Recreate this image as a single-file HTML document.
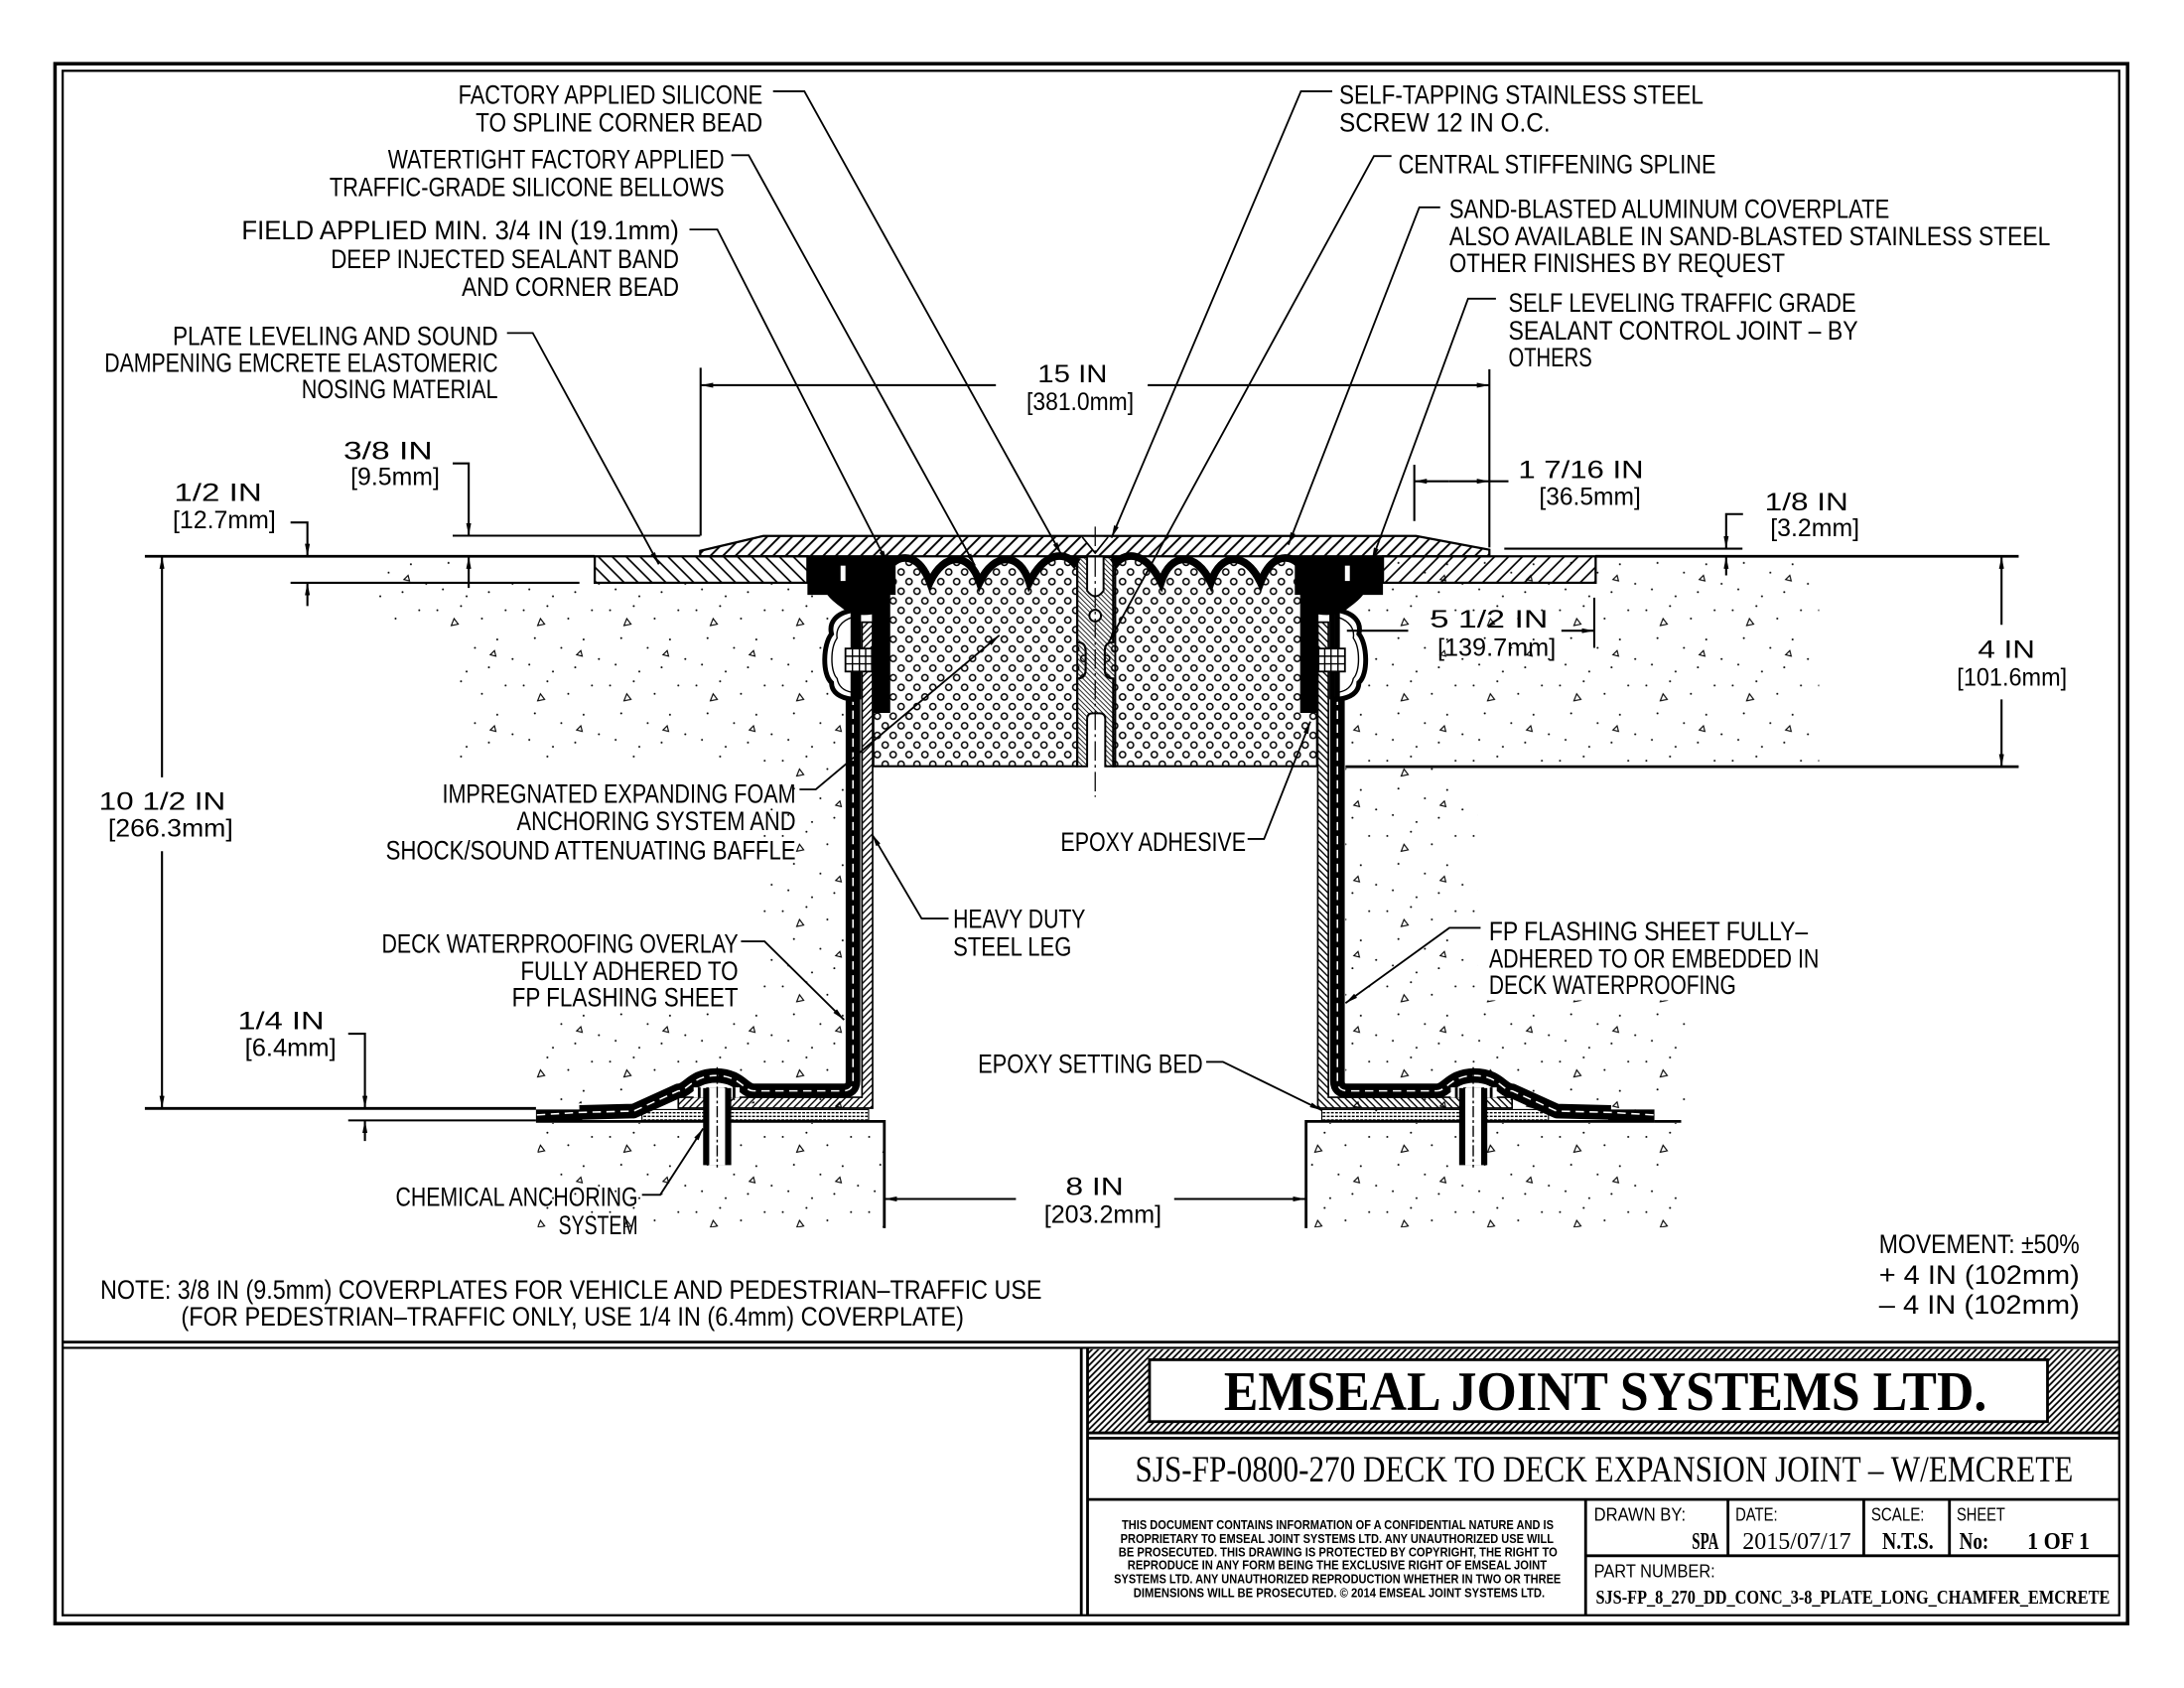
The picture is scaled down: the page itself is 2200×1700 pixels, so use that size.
<!DOCTYPE html>
<html>
<head>
<meta charset="utf-8">
<style>
html,body{margin:0;padding:0;background:#fff}
svg{display:block}
.l{font-family:"Liberation Sans",sans-serif;font-size:19px;fill:#000}
.d{font-family:"Liberation Sans",sans-serif;font-size:17.5px;fill:#000}
.sf{font-family:"Liberation Serif",serif;fill:#000}
.sb{font-family:"Liberation Sans",sans-serif;font-weight:bold;fill:#000}
</style>
</head>
<body>
<svg xmlns="http://www.w3.org/2000/svg" width="2200" height="1700" viewBox="0 0 1568 1211.6">
<defs>
<marker id="a" viewBox="0 0 10 4" refX="10" refY="2" markerUnits="userSpaceOnUse" markerWidth="9" markerHeight="3.6" orient="auto"><path d="M0,0 L10,2 L0,4 Z" fill="#000"/></marker>
<pattern id="hP" width="9" height="9" patternUnits="userSpaceOnUse"><path d="M-2,2 L2,-2 M0,9 L9,0 M7,11 L11,7" stroke="#000" stroke-width="1.4"/></pattern>
<pattern id="hN" width="10" height="10" patternUnits="userSpaceOnUse"><path d="M-2,8 L2,12 M0,0 L10,10 M8,-2 L12,2" stroke="#000" stroke-width="1.2"/></pattern>
<pattern id="hS" width="5" height="5" patternUnits="userSpaceOnUse"><path d="M-1,1 L1,-1 M0,5 L5,0 M4,6 L6,4" stroke="#000" stroke-width="1"/></pattern>
<pattern id="hF" width="3.5" height="3.5" patternUnits="userSpaceOnUse"><path d="M-1,2.5 L1,4.5 M0,0 L3.5,3.5 M2.5,-1 L4.5,1" stroke="#000" stroke-width="0.6"/></pattern>
<pattern id="hT" width="4.6" height="4.6" patternUnits="userSpaceOnUse"><path d="M-1,1 L1,-1 M0,4.6 L4.6,0 M3.6,5.6 L5.6,3.6" stroke="#000" stroke-width="1.3"/></pattern>
<pattern id="foam" width="11.4" height="13.8" patternUnits="userSpaceOnUse"><circle cx="2.85" cy="3.45" r="2.2" fill="none" stroke="#000" stroke-width="1.1"/><circle cx="8.55" cy="10.35" r="2.2" fill="none" stroke="#000" stroke-width="1.1"/></pattern>
<pattern id="bed" width="3" height="2.6" patternUnits="userSpaceOnUse"><rect x="0" y="0" width="2" height="1" fill="#000"/></pattern>
<pattern id="cc" width="62" height="54" patternUnits="userSpaceOnUse">
<g fill="#000">
<circle cx="4" cy="6" r="0.7"/><circle cx="21" cy="3" r="0.7"/><circle cx="36" cy="12" r="0.7"/><circle cx="53" cy="6" r="0.7"/><circle cx="12" cy="26" r="0.7"/><circle cx="31" cy="33" r="0.7"/><circle cx="47" cy="27" r="0.7"/><circle cx="58" cy="41" r="0.7"/><circle cx="8" cy="45" r="0.7"/><circle cx="25" cy="50" r="0.7"/><circle cx="41" cy="47" r="0.7"/>
</g>
<path d="M14,17 l5,-1 l-3,-4 z M42,38 l4,1 l-1,-4 z" fill="none" stroke="#000" stroke-width="0.8"/>
</pattern>
</defs>

<rect width="1568" height="1211.6" fill="#fff"/>

<!-- borders -->
<rect x="39.5" y="45.7" width="1488" height="1119.7" fill="none" stroke="#000" stroke-width="2.5"/>
<rect x="45" y="50.8" width="1476.5" height="1108.6" fill="none" stroke="#000" stroke-width="1.6"/>
<line x1="45" y1="963.3" x2="1521.5" y2="963.3" stroke="#000" stroke-width="2"/>
<line x1="45" y1="967.5" x2="1521.5" y2="967.5" stroke="#000" stroke-width="1.5"/>
<line x1="776.3" y1="967.5" x2="776.3" y2="1159.4" stroke="#000" stroke-width="2"/>
<line x1="780.8" y1="967.5" x2="780.8" y2="1159.4" stroke="#000" stroke-width="2"/>

<!-- concrete stipple -->
<g fill="url(#cc)">
<rect x="270" y="402" width="60" height="48"/>
<rect x="330" y="419" width="276" height="126"/>
<rect x="548" y="545" width="58" height="250"/>
<rect x="385" y="722" width="163" height="70"/>
<rect x="966" y="402" width="340" height="148"/>
<rect x="966" y="550" width="95" height="250"/>
<rect x="1061" y="718" width="150" height="82"/>
<rect x="386" y="806" width="248" height="75"/>
<rect x="938" y="806" width="268" height="75"/>
</g>

<!-- deck lines -->
<g stroke="#000" stroke-width="2" fill="none">
<line x1="104" y1="399.3" x2="427" y2="399.3"/>
<line x1="1145.4" y1="399.3" x2="1449.3" y2="399.3"/>
<line x1="104" y1="795.6" x2="384.8" y2="795.6"/>
<line x1="966" y1="550.3" x2="1449.3" y2="550.3"/>
<line x1="1187.8" y1="804.9" x2="1207" y2="804.9"/>
</g>

<!-- spline -->
<path d="M773.4,400 H800.7 V550 H793.5 V516 Q793.5,512 789.5,512 H784.5 Q780.5,512 780.5,516 V550 H773.4 Z" fill="url(#hF)" stroke="#000" stroke-width="1.4"/>
<path d="M780.5,400 V424 Q786.4,432 792.3,424 V400" fill="#fff" stroke="#000" stroke-width="1.4"/>
<circle cx="786.3" cy="441.9" r="4.2" fill="#fff" stroke="#000" stroke-width="1.4"/>

<!-- half joint (left) -->
<g id="half">
<rect x="427" y="399.3" width="152.7" height="19" fill="url(#hN)" stroke="#000" stroke-width="1.6"/>
<path d="M618.9,446.6 H626.5 V795.4 H487 V787.6 H618.9 Z" fill="url(#hS)" stroke="#000" stroke-width="1.2"/>
<rect x="460.9" y="796.4" width="162.7" height="7.8" fill="url(#bed)" stroke="#000" stroke-width="0.8"/>
<path d="M384.8,804.9 H634.9 V881.5" fill="none" stroke="#000" stroke-width="2"/>
<path d="M612.4,500 L612.4,776 Q612.4,783 605,783 L541,783 C534,783 531,772 514,772 C497,772 494,783 487,783 L455,797.5 L416,798.5" fill="none" stroke="#000" stroke-width="10.5" stroke-linejoin="round"/>
<path d="M418,800.3 L384.8,800.3" fill="none" stroke="#000" stroke-width="7.8"/>
<path d="M612.4,500 L612.4,776 Q612.4,783 605,783 L541,783 C534,783 531,772 514,772 C497,772 494,783 487,783 L455,797.5 L416,798.5 L384.8,800.3" fill="none" stroke="#fff" stroke-width="1.1" stroke-dasharray="6 4"/>
<path d="M579.7,399.6 H643 V427 H638.4 V511 H626 V441 Q612,443 604,436 Q597,431 594,427 H579.7 Z" fill="#000"/>
<rect x="603.5" y="406" width="3.5" height="11" fill="#fff"/>
<path d="M612.4,438 C600,440 595,447 597,455 C591,462 590,484 597,490 C597,497 603,501 612.4,502 Z" fill="#fff" stroke="#000" stroke-width="3.5"/>
<path d="M612,443 C603,446 600,452 601,458 C596,465 596,482 601,487 C602,493 606,496 612,497" fill="none" stroke="#000" stroke-width="1"/>
<rect x="614" y="440" width="4.2" height="62" fill="#000"/>
<rect x="607" y="465.5" width="19" height="16.5" fill="#fff" stroke="#000" stroke-width="1.3"/>
<path d="M612,465.5 V482 M617,465.5 V482 M621.5,465.5 V482 M607,471 H626 M607,476.5 H626" stroke="#000" stroke-width="1"/>
<path d="M641,404 C648,398 660,398 667.6,418 C678,396 696,396 703.3,418 C714,396 732,396 739,418 C750,396 764,396 771,404 L773.4,404 L773.4,461 Q779.4,461 779.4,467 L779.4,481 Q779.4,487 773.4,487 L773.4,550 L627,550 L627,511 L638.4,511 L638.4,404 Z" fill="url(#foam)" stroke="#000" stroke-width="1.5"/>
<path d="M641,404 C648,398 660,398 667.6,418 C678,396 696,396 703.3,418 C714,396 732,396 739,418 C750,396 764,396 771,404 L773.4,400" fill="none" stroke="#000" stroke-width="5.5"/>
<rect x="498" y="780.5" width="33" height="7.5" fill="#fff"/>
<path d="M502,780.5 V788 M508,780.5 V788 M521,780.5 V788 M527,780.5 V788" stroke="#000" stroke-width="2"/>
<rect x="504.8" y="781" width="20.2" height="55.3" fill="#000"/>
<rect x="509.2" y="781" width="11.4" height="55.3" fill="#fff"/>
<line x1="514.9" y1="766" x2="514.9" y2="838" stroke="#000" stroke-width="1" stroke-dasharray="8 2 2 2"/>
</g>
<use href="#half" transform="translate(1572.6,0) scale(-1,1)"/>

<!-- coverplate -->
<path d="M502.7,399.3 V395.4 L548,384.7 H1016.6 L1069.3,394.6 V399.3 Z" fill="url(#hP)" stroke="#000" stroke-width="1.6"/>
<path d="M777,385.5 L786.3,397 L795.5,385.5" fill="#fff" stroke="#000" stroke-width="1.2"/>
<line x1="786.3" y1="378" x2="786.3" y2="572" stroke="#000" stroke-width="0.9" stroke-dasharray="14 3 2 3"/>

<!-- dimension lines -->
<g stroke="#000" stroke-width="1.5" fill="none">
<line x1="116.3" y1="558" x2="116.3" y2="399.3" marker-end="url(#a)"/>
<line x1="116.3" y1="611" x2="116.3" y2="795.6" marker-end="url(#a)"/>
<polyline points="208.6,375 220.7,375 220.7,399.3" marker-end="url(#a)"/>
<line x1="220.7" y1="435" x2="220.7" y2="418.3" marker-end="url(#a)"/>
<line x1="208.6" y1="418.3" x2="416" y2="418.3"/>
<polyline points="325,332.6 336.5,332.6 336.5,384.5" marker-end="url(#a)"/>
<line x1="336.5" y1="422" x2="336.5" y2="399.3" marker-end="url(#a)"/>
<line x1="325" y1="384.5" x2="502.7" y2="384.5"/>
<line x1="503" y1="264" x2="503" y2="384.5"/>
<line x1="1069.3" y1="265" x2="1069.3" y2="393"/>
<line x1="715" y1="276.5" x2="503" y2="276.5" marker-end="url(#a)"/>
<line x1="824" y1="276.5" x2="1069.3" y2="276.5" marker-end="url(#a)"/>
<line x1="1015.4" y1="333.6" x2="1015.4" y2="374"/>
<line x1="1040" y1="345.4" x2="1015.4" y2="345.4" marker-end="url(#a)"/>
<line x1="1040" y1="345.4" x2="1069.3" y2="345.4" marker-end="url(#a)"/>
<line x1="1069.3" y1="345.4" x2="1083" y2="345.4"/>
<polyline points="1251.4,369 1239.3,369 1239.3,393.8" marker-end="url(#a)"/>
<line x1="1239.3" y1="413" x2="1239.3" y2="399.3" marker-end="url(#a)"/>
<line x1="1080" y1="393.8" x2="1251" y2="393.8"/>
<line x1="1144.6" y1="429" x2="1144.6" y2="465"/>
<line x1="1121" y1="452.7" x2="1144.6" y2="452.7" marker-end="url(#a)"/>
<line x1="967" y1="452.7" x2="1011" y2="452.7"/>
<line x1="1437" y1="448.5" x2="1437" y2="399.3" marker-end="url(#a)"/>
<line x1="1437" y1="502" x2="1437" y2="550.3" marker-end="url(#a)"/>
<polyline points="250,742 262,742 262,795.6" marker-end="url(#a)"/>
<line x1="262" y1="819" x2="262" y2="804.2" marker-end="url(#a)"/>
<line x1="250" y1="804.2" x2="384.8" y2="804.2"/>
<line x1="729.4" y1="860.6" x2="634.9" y2="860.6" marker-end="url(#a)"/>
<line x1="843" y1="860.6" x2="937.3" y2="860.6" marker-end="url(#a)"/>
</g>

<!-- leaders -->
<g stroke="#000" stroke-width="1.3" fill="none">
<polyline points="555,65.5 577.5,65.5 762,398" marker-end="url(#a)"/>
<polyline points="525,111.4 537.5,111.4 700,406" marker-end="url(#a)"/>
<polyline points="495,164.7 515,164.7 637,404" marker-end="url(#a)"/>
<polyline points="364,239 382.5,239 473,405" marker-end="url(#a)"/>
<polyline points="956.5,65.5 934,65.5 798,386" marker-end="url(#a)"/>
<polyline points="999,112 986.4,112 796,461" marker-end="url(#a)"/>
<polyline points="1034,148.8 1019,148.8 925,391" marker-end="url(#a)"/>
<polyline points="1074,214.4 1054,214.4 985,402" marker-end="url(#a)"/>
<polyline points="574,566.6 585.7,566.6 717.5,456" marker-end="url(#a)"/>
<polyline points="895.7,602.2 907.5,602.2 940.8,517.9" marker-end="url(#a)"/>
<polyline points="681,659.3 661.7,659.3 626,598.7" marker-end="url(#a)"/>
<polyline points="532,675.7 548.9,675.7 606,732" marker-end="url(#a)"/>
<polyline points="866,762.2 878,762.2 949.2,797" marker-end="url(#a)"/>
<polyline points="460.9,857.6 474,857.6 504.8,810" marker-end="url(#a)"/>
<polyline points="1063,666 1040.6,666 966,720" marker-end="url(#a)"/>
</g>

<!-- labels -->
<g class="l">
<text x="329" y="74.6" textLength="218.5" lengthAdjust="spacingAndGlyphs">FACTORY APPLIED SILICONE</text>
<text x="341.5" y="94.3" textLength="206" lengthAdjust="spacingAndGlyphs">TO SPLINE CORNER BEAD</text>
<text x="278.5" y="120.9" textLength="241.5" lengthAdjust="spacingAndGlyphs">WATERTIGHT FACTORY APPLIED</text>
<text x="236.5" y="140.7" textLength="283.5" lengthAdjust="spacingAndGlyphs">TRAFFIC-GRADE SILICONE BELLOWS</text>
<text x="173.5" y="171.9" textLength="314" lengthAdjust="spacingAndGlyphs">FIELD APPLIED MIN. 3/4 IN (19.1mm)</text>
<text x="237.5" y="192.6" textLength="250" lengthAdjust="spacingAndGlyphs">DEEP INJECTED SEALANT BAND</text>
<text x="331.5" y="212.3" textLength="156" lengthAdjust="spacingAndGlyphs">AND CORNER BEAD</text>
<text x="124" y="247.7" textLength="233.5" lengthAdjust="spacingAndGlyphs">PLATE LEVELING AND SOUND</text>
<text x="75" y="266.9" textLength="282.5" lengthAdjust="spacingAndGlyphs">DAMPENING EMCRETE ELASTOMERIC</text>
<text x="216.5" y="285.9" textLength="141" lengthAdjust="spacingAndGlyphs">NOSING MATERIAL</text>
<text x="961.5" y="74.6" textLength="261.5" lengthAdjust="spacingAndGlyphs">SELF-TAPPING STAINLESS STEEL</text>
<text x="961.5" y="94.3" textLength="151.5" lengthAdjust="spacingAndGlyphs">SCREW 12 IN O.C.</text>
<text x="1004" y="124.3" textLength="228" lengthAdjust="spacingAndGlyphs">CENTRAL STIFFENING SPLINE</text>
<text x="1040.5" y="156.5" textLength="316" lengthAdjust="spacingAndGlyphs">SAND-BLASTED ALUMINUM COVERPLATE</text>
<text x="1040.5" y="176.2" textLength="431.5" lengthAdjust="spacingAndGlyphs">ALSO AVAILABLE IN SAND-BLASTED STAINLESS STEEL</text>
<text x="1040.5" y="195.3" textLength="241" lengthAdjust="spacingAndGlyphs">OTHER FINISHES BY REQUEST</text>
<text x="1083" y="223.9" textLength="249.5" lengthAdjust="spacingAndGlyphs">SELF LEVELING TRAFFIC GRADE</text>
<text x="1083" y="243.9" textLength="251" lengthAdjust="spacingAndGlyphs">SEALANT CONTROL JOINT – BY</text>
<text x="1083" y="262.9" textLength="60" lengthAdjust="spacingAndGlyphs">OTHERS</text>
<text x="317.5" y="576.2" textLength="253.8" lengthAdjust="spacingAndGlyphs">IMPREGNATED EXPANDING FOAM</text>
<text x="371" y="595.9" textLength="200.3" lengthAdjust="spacingAndGlyphs">ANCHORING SYSTEM AND</text>
<text x="277" y="616.9" textLength="294.3" lengthAdjust="spacingAndGlyphs">SHOCK/SOUND ATTENUATING BAFFLE</text>
<text x="274" y="683.9" textLength="256" lengthAdjust="spacingAndGlyphs">DECK WATERPROOFING OVERLAY</text>
<text x="373.7" y="703.4" textLength="156.3" lengthAdjust="spacingAndGlyphs">FULLY ADHERED TO</text>
<text x="367.5" y="722.4" textLength="162.5" lengthAdjust="spacingAndGlyphs">FP FLASHING SHEET</text>
<text x="761.5" y="610.9" textLength="133" lengthAdjust="spacingAndGlyphs">EPOXY ADHESIVE</text>
<text x="684.3" y="666.2" textLength="95" lengthAdjust="spacingAndGlyphs">HEAVY DUTY</text>
<text x="684.3" y="685.9" textLength="85" lengthAdjust="spacingAndGlyphs">STEEL LEG</text>
<text x="702.1" y="770.1" textLength="161.5" lengthAdjust="spacingAndGlyphs">EPOXY SETTING BED</text>
<text x="284" y="865.7" textLength="174" lengthAdjust="spacingAndGlyphs">CHEMICAL ANCHORING</text>
<text x="401" y="885.9" textLength="57" lengthAdjust="spacingAndGlyphs">SYSTEM</text>
<text x="1069" y="674.9" textLength="229" lengthAdjust="spacingAndGlyphs">FP FLASHING SHEET FULLY–</text>
<text x="1069" y="694.5" textLength="237" lengthAdjust="spacingAndGlyphs">ADHERED TO OR EMBEDDED IN</text>
<text x="1069" y="713.6" textLength="177.4" lengthAdjust="spacingAndGlyphs">DECK WATERPROOFING</text>
<text x="72" y="932.4" textLength="676" lengthAdjust="spacingAndGlyphs">NOTE: 3/8 IN (9.5mm) COVERPLATES FOR VEHICLE AND PEDESTRIAN–TRAFFIC USE</text>
<text x="130" y="951.4" textLength="562" lengthAdjust="spacingAndGlyphs">(FOR PEDESTRIAN–TRAFFIC ONLY, USE 1/4 IN (6.4mm) COVERPLATE)</text>
<text x="1349" y="899.4" textLength="144" lengthAdjust="spacingAndGlyphs">MOVEMENT: ±50%</text>
<text x="1349" y="921.4" textLength="144" lengthAdjust="spacingAndGlyphs">+ 4 IN (102mm)</text>
<text x="1349" y="942.9" textLength="144" lengthAdjust="spacingAndGlyphs">– 4 IN (102mm)</text>
</g>

<!-- dimension text -->
<g class="d">
<text x="125" y="359.6" textLength="63" lengthAdjust="spacingAndGlyphs">1/2 IN</text>
<text x="124" y="379" textLength="74" lengthAdjust="spacingAndGlyphs">[12.7mm]</text>
<text x="246.6" y="329.6" textLength="63.9" lengthAdjust="spacingAndGlyphs">3/8 IN</text>
<text x="251.7" y="348.2" textLength="64" lengthAdjust="spacingAndGlyphs">[9.5mm]</text>
<text x="745" y="274.5" textLength="50" lengthAdjust="spacingAndGlyphs">15 IN</text>
<text x="737" y="294.3" textLength="77" lengthAdjust="spacingAndGlyphs">[381.0mm]</text>
<text x="1090" y="343.3" textLength="90" lengthAdjust="spacingAndGlyphs">1 7/16 IN</text>
<text x="1105" y="362.3" textLength="73" lengthAdjust="spacingAndGlyphs">[36.5mm]</text>
<text x="1267" y="366.3" textLength="60" lengthAdjust="spacingAndGlyphs">1/8 IN</text>
<text x="1271" y="384.7" textLength="64" lengthAdjust="spacingAndGlyphs">[3.2mm]</text>
<text x="1026.8" y="450.3" textLength="84.6" lengthAdjust="spacingAndGlyphs">5 1/2 IN</text>
<text x="1032" y="470.8" textLength="85" lengthAdjust="spacingAndGlyphs">[139.7mm]</text>
<text x="1420" y="472.3" textLength="41" lengthAdjust="spacingAndGlyphs">4 IN</text>
<text x="1405" y="492.3" textLength="79" lengthAdjust="spacingAndGlyphs">[101.6mm]</text>
<text x="71" y="581.3" textLength="91" lengthAdjust="spacingAndGlyphs">10 1/2 IN</text>
<text x="77.6" y="600.3" textLength="89.7" lengthAdjust="spacingAndGlyphs">[266.3mm]</text>
<text x="170.6" y="738.6" textLength="62.2" lengthAdjust="spacingAndGlyphs">1/4 IN</text>
<text x="175.8" y="758" textLength="65.6" lengthAdjust="spacingAndGlyphs">[6.4mm]</text>
<text x="765" y="857.6" textLength="41.6" lengthAdjust="spacingAndGlyphs">8 IN</text>
<text x="749.6" y="877.8" textLength="84.4" lengthAdjust="spacingAndGlyphs">[203.2mm]</text>
</g>

<!-- title block -->
<rect x="781" y="968.5" width="740.5" height="59.6" fill="url(#hT)"/>
<rect x="825.3" y="976" width="644.7" height="44.4" fill="#fff" stroke="#000" stroke-width="2"/>
<text class="sf" x="878.7" y="1012.1" font-size="40" font-weight="bold" textLength="547.7" lengthAdjust="spacingAndGlyphs">EMSEAL JOINT SYSTEMS LTD.</text>
<g stroke="#000" stroke-width="2" fill="none">
<line x1="781" y1="1028.5" x2="1521.5" y2="1028.5"/>
<line x1="781" y1="1032.3" x2="1521.5" y2="1032.3"/>
<line x1="781" y1="1076.3" x2="1521.5" y2="1076.3"/>
<line x1="1138.4" y1="1076.3" x2="1138.4" y2="1159.4"/>
<line x1="1240.6" y1="1076.3" x2="1240.6" y2="1116.7"/>
<line x1="1338.1" y1="1076.3" x2="1338.1" y2="1116.7"/>
<line x1="1399.6" y1="1076.3" x2="1399.6" y2="1116.7"/>
<line x1="1138.4" y1="1116.7" x2="1521.5" y2="1116.7"/>
</g>
<text class="sf" x="815" y="1063.2" font-size="26" textLength="673.4" lengthAdjust="spacingAndGlyphs">SJS-FP-0800-270 DECK TO DECK EXPANSION JOINT – W/EMCRETE</text>
<g class="sb" font-size="9.5">
<text x="805.4" y="1097.5" textLength="310" lengthAdjust="spacingAndGlyphs">THIS DOCUMENT CONTAINS INFORMATION OF A CONFIDENTIAL NATURE AND IS</text>
<text x="804.4" y="1107.6" textLength="311" lengthAdjust="spacingAndGlyphs">PROPRIETARY TO EMSEAL JOINT SYSTEMS LTD. ANY UNAUTHORIZED USE WILL</text>
<text x="803.1" y="1117.1" textLength="315" lengthAdjust="spacingAndGlyphs">BE PROSECUTED. THIS DRAWING IS PROTECTED BY COPYRIGHT, THE RIGHT TO</text>
<text x="809.5" y="1126.6" textLength="301" lengthAdjust="spacingAndGlyphs">REPRODUCE IN ANY FORM BEING THE EXCLUSIVE RIGHT OF EMSEAL JOINT</text>
<text x="799.8" y="1136.3" textLength="320.8" lengthAdjust="spacingAndGlyphs">SYSTEMS LTD. ANY UNAUTHORIZED REPRODUCTION WHETHER IN TWO OR THREE</text>
<text x="813.8" y="1146.3" textLength="295.3" lengthAdjust="spacingAndGlyphs">DIMENSIONS WILL BE PROSECUTED. © 2014 EMSEAL JOINT SYSTEMS LTD.</text>
</g>
<g class="l" style="font-size:13px">
<text x="1144.4" y="1091.7" textLength="65.9" lengthAdjust="spacingAndGlyphs">DRAWN BY:</text>
<text x="1245.9" y="1091.7" textLength="30.3" lengthAdjust="spacingAndGlyphs">DATE:</text>
<text x="1343.4" y="1091.7" textLength="38.2" lengthAdjust="spacingAndGlyphs">SCALE:</text>
<text x="1404.8" y="1091.7" textLength="34.8" lengthAdjust="spacingAndGlyphs">SHEET</text>
<text x="1144.4" y="1132" textLength="87" lengthAdjust="spacingAndGlyphs">PART NUMBER:</text>
</g>
<g class="sf" font-size="17" font-weight="bold">
<text x="1214.7" y="1112" textLength="19.3" lengthAdjust="spacingAndGlyphs">SPA</text>
<text x="1251" y="1112" textLength="78" lengthAdjust="spacingAndGlyphs" font-weight="normal">2015/07/17</text>
<text x="1351.3" y="1112" textLength="36.9" lengthAdjust="spacingAndGlyphs">N.T.S.</text>
<text x="1406.7" y="1112" textLength="21.1" lengthAdjust="spacingAndGlyphs">No:</text>
<text x="1455.5" y="1112" textLength="44.8" lengthAdjust="spacingAndGlyphs">1 OF 1</text>
</g>
<text class="sf" x="1145.7" y="1151" font-size="14" font-weight="bold" textLength="369.1" lengthAdjust="spacingAndGlyphs">SJS-FP_8_270_DD_CONC_3-8_PLATE_LONG_CHAMFER_EMCRETE</text>
</svg>
</body>
</html>
